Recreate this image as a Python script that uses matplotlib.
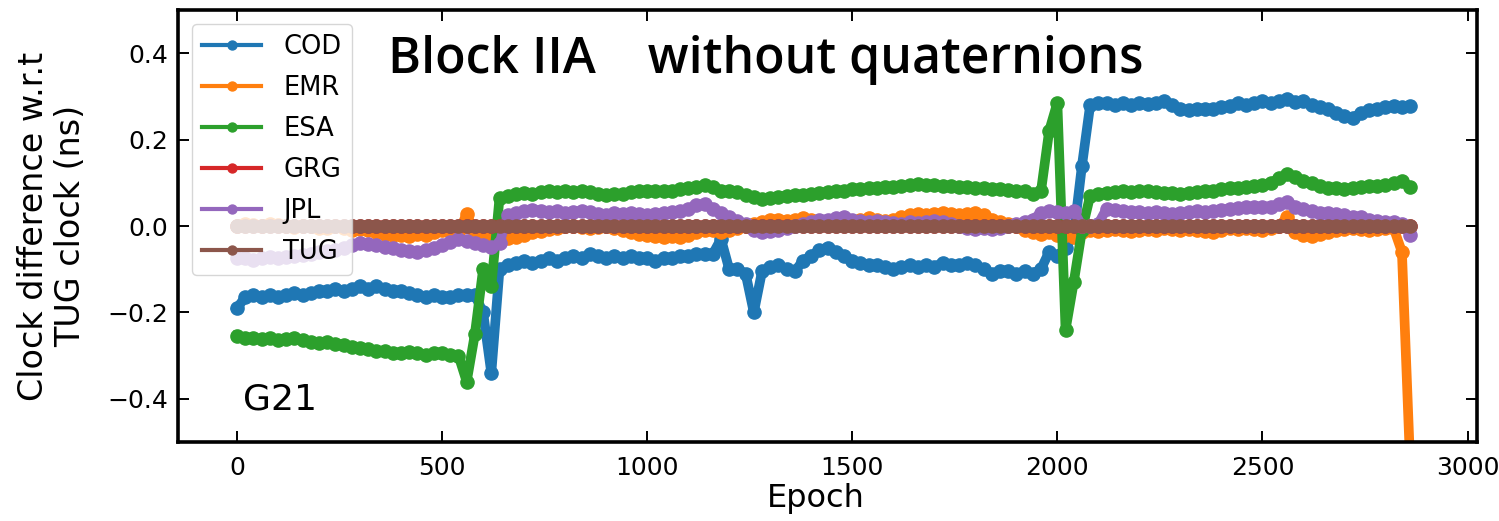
import matplotlib
matplotlib.use("Agg")
import matplotlib.pyplot as plt

epochs = list(range(0, 2861, 20))

cod = [
    -0.19, -0.165, -0.16, -0.165, -0.16, -0.165, -0.16, -0.155, -0.16, -0.155,
    -0.15, -0.15, -0.145, -0.15, -0.145, -0.14, -0.145, -0.14, -0.145, -0.15,
    -0.15, -0.155, -0.16, -0.165, -0.16, -0.165, -0.165, -0.16, -0.16, -0.16,
    -0.2, -0.34, -0.1, -0.09, -0.085, -0.08, -0.085, -0.08, -0.075, -0.08,
    -0.075, -0.07, -0.075, -0.065, -0.07, -0.075, -0.07, -0.075, -0.07, -0.075,
    -0.075, -0.08, -0.075, -0.075, -0.07, -0.07, -0.065, -0.065, -0.065, -0.03,
    -0.1, -0.1, -0.11, -0.2, -0.105, -0.095, -0.09, -0.1, -0.105, -0.08,
    -0.07, -0.055, -0.05, -0.06, -0.07, -0.08, -0.085, -0.09, -0.09, -0.095,
    -0.1, -0.095, -0.09, -0.095, -0.09, -0.095, -0.085, -0.09, -0.09, -0.085,
    -0.09, -0.1, -0.11, -0.105, -0.105, -0.11, -0.105, -0.11, -0.1, -0.06,
    -0.07, -0.05, -0.02, 0.14, 0.28, 0.285, 0.285, 0.28, 0.285, 0.28,
    0.285, 0.283, 0.285, 0.29, 0.28, 0.27, 0.268, 0.27, 0.272, 0.27,
    0.275, 0.278, 0.285, 0.28, 0.285, 0.29, 0.285, 0.29, 0.295, 0.288,
    0.29, 0.28, 0.275, 0.27, 0.262, 0.255, 0.25, 0.262, 0.268, 0.272,
    0.275, 0.278, 0.275, 0.278,
]

emr = [
    0.0, 0.005, 0.003, 0.0, 0.005, 0.003, 0.0, -0.003, 0.0, 0.0,
    -0.005, -0.005, 0.0, -0.005, -0.01, -0.008, -0.01, -0.015, -0.018, -0.02,
    -0.02, -0.022, -0.018, -0.02, -0.015, -0.01, -0.012, -0.015, 0.028, -0.02,
    -0.025, -0.028, -0.03, -0.028, -0.025, -0.02, -0.015, -0.012, -0.008, -0.005,
    0.0, 0.0, -0.003, -0.005, -0.003, 0.0, -0.005, -0.01, -0.015, -0.018,
    -0.02, -0.022, -0.025, -0.022, -0.025, -0.02, -0.015, -0.01, -0.01, -0.015,
    -0.01, -0.005, 0.0, 0.005, 0.01, 0.015, 0.015, 0.012, 0.015, 0.018,
    0.015, 0.012, 0.01, 0.012, 0.015, 0.012, 0.015, 0.018, 0.015, 0.012,
    0.015, 0.02, 0.025, 0.028, 0.025, 0.028, 0.03, 0.028, 0.025, 0.028,
    0.03, 0.025, 0.015, 0.01, 0.005, 0.0, -0.01, -0.015, -0.018, -0.015,
    -0.02, -0.02, -0.025, -0.015, -0.01, -0.012, -0.01, -0.008, -0.01, -0.012,
    -0.01, -0.008, -0.01, -0.005, -0.008, -0.01, -0.008, -0.01, -0.012, -0.015,
    -0.01, -0.005, -0.008, -0.005, -0.008, -0.01, -0.005, 0.0, 0.02, -0.015,
    -0.02, -0.022, -0.018, -0.015, -0.01, -0.008, -0.005, -0.008, -0.01, -0.008,
    -0.005, -0.005, -0.06, -0.55,
]

esa = [
    -0.255, -0.26, -0.26, -0.262, -0.26, -0.265, -0.262, -0.26, -0.265, -0.268,
    -0.27, -0.268, -0.272, -0.275, -0.28, -0.282, -0.285, -0.29, -0.29, -0.295,
    -0.295, -0.292, -0.295, -0.298, -0.295, -0.295, -0.298, -0.3, -0.36, -0.25,
    -0.1, -0.14, 0.065, 0.07, 0.075, 0.077, 0.075, 0.078, 0.08, 0.078,
    0.08, 0.078, 0.08, 0.078, 0.075, 0.072, 0.075, 0.073, 0.078, 0.08,
    0.082, 0.08, 0.082, 0.08, 0.085, 0.088, 0.09, 0.095, 0.09, 0.082,
    0.08, 0.078, 0.072, 0.068, 0.062, 0.065, 0.068, 0.07, 0.072, 0.072,
    0.075, 0.077, 0.078, 0.08, 0.08, 0.085, 0.085, 0.087, 0.088, 0.09,
    0.09, 0.092, 0.095, 0.098, 0.095, 0.095, 0.093, 0.092, 0.09, 0.09,
    0.088, 0.087, 0.085, 0.085, 0.083, 0.082, 0.08, 0.075, 0.08, 0.22,
    0.285, -0.24, -0.13, -0.01, 0.07, 0.075, 0.077, 0.078, 0.08, 0.078,
    0.08, 0.08, 0.078, 0.076, 0.076, 0.075, 0.076, 0.078, 0.08, 0.082,
    0.085, 0.087, 0.088, 0.09, 0.093, 0.095, 0.1, 0.11, 0.12, 0.113,
    0.105, 0.1, 0.093, 0.088, 0.087, 0.086, 0.088, 0.09, 0.092, 0.093,
    0.095, 0.1, 0.105, 0.09,
]

grg = [0.0] * len(epochs)

jpl = [
    -0.075, -0.075, -0.078, -0.075, -0.072, -0.075, -0.072, -0.07, -0.068, -0.065,
    -0.06, -0.058, -0.055, -0.05, -0.045, -0.04, -0.042, -0.045, -0.048, -0.05,
    -0.055, -0.058, -0.06, -0.055, -0.05, -0.045, -0.038, -0.03, -0.035, -0.04,
    -0.045, -0.048, -0.04, 0.025, 0.03, 0.035, 0.038, 0.035, 0.032, 0.035,
    0.03, 0.033, 0.035, 0.032, 0.028, 0.025, 0.03, 0.028, 0.03, 0.028,
    0.025, 0.027, 0.03, 0.032, 0.035, 0.04, 0.048, 0.052, 0.04, 0.03,
    0.02, 0.012, 0.005, -0.01, -0.015, -0.012, -0.01, -0.005, 0.0, 0.005,
    0.01, 0.015, 0.015, 0.018, 0.02, 0.015, 0.012, 0.01, 0.012, 0.01,
    0.008, 0.005, 0.01, 0.008, 0.01, 0.012, 0.01, 0.005, 0.0, -0.005,
    -0.008, -0.005, -0.008, -0.005, 0.0, 0.005, 0.01, 0.015, 0.03, 0.035,
    0.032, 0.03, 0.035, 0.0, 0.0, 0.005, 0.04, 0.038, 0.035, 0.033,
    0.032, 0.03, 0.032, 0.03, 0.028, 0.03, 0.032, 0.035, 0.033, 0.035,
    0.038, 0.04, 0.042, 0.045, 0.043, 0.045, 0.045, 0.05, 0.055, 0.045,
    0.04, 0.035, 0.03, 0.03, 0.028, 0.025, 0.022, 0.02, 0.015, 0.012,
    0.01, 0.01, 0.005, -0.02,
]

tug = [0.0] * len(epochs)

labels = ["COD", "EMR", "ESA", "GRG", "JPL", "TUG"]
series = [cod, emr, esa, grg, jpl, tug]


def plot_clock_diff():
    fig = plt.figure(figsize=(14.99, 5.21), dpi=100)
    ax = fig.add_axes([0.1187, 0.1516, 0.8666, 0.8292])

    for name, vals in zip(labels, series):
        ax.plot(epochs, vals, marker='o', markersize=9.5, linewidth=7, label=name)

    ax.set_xlim(-144, 3023)
    ax.set_ylim(-0.5, 0.5)
    ax.set_yticks([-0.4, -0.2, 0.0, 0.2, 0.4])
    ax.set_xticks([0, 500, 1000, 1500, 2000, 2500, 3000])

    ax.tick_params(direction='in', top=True, right=True, length=8, width=1.4,
                   labelsize=18, pad=7)
    ax.tick_params(axis='x', pad=10)
    for sp in ax.spines.values():
        sp.set_linewidth(2.6)

    ax.set_xlabel("Epoch", fontsize=23)
    ax.xaxis.set_label_coords(0.491, -0.095)
    ax.set_ylabel("Clock difference w.r.t\nTUG clock (ns)", fontsize=24, linespacing=1.15)
    ax.yaxis.set_label_coords(-0.07, 0.5)

    leg = ax.legend(loc='upper left', fontsize=18.5, handlelength=2.3, markerscale=0.68,
                    borderaxespad=0.55, labelspacing=0.58, handletextpad=0.85)
    for ln in leg.get_lines():
        ln.set_linewidth(3)

    ax.text(0.162, 0.885, "Block IIA    without quaternions", transform=ax.transAxes,
            fontsize=36, fontweight='semibold', family='Open Sans', va='center')
    ax.text(0.05, 0.075, "G21", transform=ax.transAxes, fontsize=26)

    fig.savefig("out.png", dpi=100)


if __name__ == "__main__":
    plot_clock_diff()
